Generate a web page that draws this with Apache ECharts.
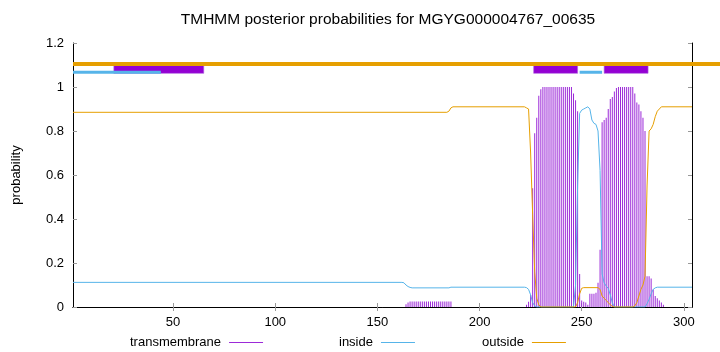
<!DOCTYPE html>
<html>
<head>
<meta charset="utf-8">
<script src="https://cdn.jsdelivr.net/npm/echarts@6/dist/echarts.min.js"></script>
<style>html,body{margin:0;padding:0;background:#fff;}#c{width:720px;height:352px;}</style>
</head>
<body>
<div id="c"></div>
<script>
// ---- data ----
const seqStart = 1;
const seqEnd = 304;
const xTicks = [50, 100, 150, 200, 250, 300];

// transmembrane posterior (impulses), non-zero positions only
const tmPos = [164,165,166,167,168,169,170,171,172,173,174,175,176,177,178,179,180,181,182,183,184,185,186,
  223,224,225,226,227,228,229,230,231,232,233,234,235,236,237,238,239,240,241,242,243,244,245,246,247,248,
  249,250,251,252,253,254,255,256,257,258,259,260,261,262,263,264,265,266,267,268,269,270,271,272,273,274,275,
  276,277,278,279,280,281,282,283,284,285,286,287,288,289,290];
const tmVal = [0.012,0.02,0.025,0.025,0.025,0.025,0.025,0.025,0.025,0.025,0.025,0.025,0.025,0.025,0.025,0.025,0.025,0.025,0.025,0.025,0.025,0.025,0.025,
  0.01,0.024,0.055,0.54,0.79,0.86,0.96,0.99,1,1,1,1,1,1,1,1,1,1,1,1,1,1,1,0.97,0.94,0.89,
  0.15,0.03,0.024,0.02,0.01,0.06,0.06,0.06,0.065,0.11,0.26,0.84,0.85,0.86,0.9,0.945,0.955,0.98,0.995,1,1,1,1,1,1,1,1,
  0.97,0.93,0.92,0.89,0.86,0.8,0.14,0.14,0.13,0.08,0.05,0.04,0.03,0.02,0.01];

// inside posterior
const inPos = [1,162,163,164,165,166,167,185,186,222,223,224,225,226,227,228,246,247,248,249,250,251,252,253,254,255,256,257,258,259,260,261,262,263,264,265,266,281,282,283,284,285,286,287,304];
const inVal = [0.112,0.112,0.11,0.1,0.093,0.089,0.087,0.087,0.09,0.09,0.088,0.08,0.055,0.02,0.005,0,0,0.1,0.55,0.88,0.895,0.9,0.905,0.91,0.9,0.85,0.835,0.83,0.8,0.62,0.15,0.11,0.095,0.085,0.055,0.02,0,0,0.015,0.035,0.06,0.08,0.087,0.09,0.09];

// outside posterior
const outPos = [1,184,185,186,187,222,223,224,225,226,227,228,229,230,247,248,249,250,251,258,259,260,261,262,263,264,265,266,275,276,277,278,279,280,281,282,283,284,285,286,287,288,289,304];
const outVal = [0.885,0.885,0.89,0.905,0.91,0.91,0.905,0.9,0.7,0.42,0.16,0.04,0.01,0,0,0.02,0.06,0.085,0.088,0.088,0.08,0.05,0.04,0.03,0.02,0.01,0.003,0,0,0.005,0.02,0.05,0.08,0.1,0.14,0.55,0.8,0.81,0.83,0.865,0.89,0.9,0.91,0.91];

// predicted topology tracks at the top
const tmBoxes = [[21, 65], [226.5, 248], [261, 282.5]];
const insideSegs = [[1, 44], [249, 260]];
const outsideSegs = [[1, 318]];

// ---- chart ----
const FONT = 'Liberation Sans, Arial, sans-serif';
const C_TM = '#9c2ad8', C_IN = '#56b4e9', C_OUT = '#e69f00', C_BOX = '#9400d3';

function trackSeries(segs, y, color, width, z) {
  return {type: 'custom', z: z, clip: false, silent: true,
    renderItem: function (params, api) {
      const a = api.coord([api.value(0), y]);
      const b = api.coord([api.value(1), y]);
      return {type: 'line', shape: {x1: a[0], y1: a[1], x2: b[0], y2: b[1]},
              style: {stroke: color, lineWidth: width, lineCap: 'butt'}};
    },
    data: segs};
}

const tickStyle = {show: true, inside: true, length: 4, lineStyle: {color: '#999'}, customValues: xTicks};
const legendText = {fontSize: 13, color: '#000', fontFamily: FONT, padding: [0, 3, 0, 0]};
const chart = echarts.init(document.getElementById('c'), null, {renderer: 'canvas'});
chart.setOption({
  animation: false,
  backgroundColor: '#fff',
  textStyle: {fontFamily: FONT},
  title: {
    text: 'TMHMM posterior probabilities for MGYG000004767_00635',
    left: 383, top: 7, textAlign: 'center',
    textStyle: {fontSize: 15.5, fontWeight: 'normal', color: '#000', fontFamily: FONT}
  },
  grid: {left: 73, right: 28, top: 43, bottom: 45, containLabel: false},
  legend: [
    {data: [{name: 'transmembrane', icon: 'rect'}], left: 125, top: 331, align: 'right', itemWidth: 34, itemHeight: 1, itemGap: 0, textStyle: legendText, selectedMode: false},
    {data: [{name: 'inside', icon: 'rect'}], left: 334, top: 331, align: 'right', itemWidth: 34, itemHeight: 1, itemGap: 0, textStyle: legendText, selectedMode: false},
    {data: [{name: 'outside', icon: 'rect'}], left: 477, top: 331, align: 'right', itemWidth: 34, itemHeight: 1, itemGap: 0, textStyle: legendText, selectedMode: false}
  ],
  xAxis: [
    {type: 'value', min: seqStart, max: seqEnd, position: 'bottom',
     axisLine: {show: true, lineStyle: {color: '#000'}},
     axisTick: tickStyle,
     axisLabel: {customValues: xTicks, color: '#000', fontSize: 13, margin: 9, fontFamily: FONT},
     splitLine: {show: false}},
    {type: 'value', min: seqStart, max: seqEnd, position: 'top',
     axisLine: {show: true, lineStyle: {color: '#000'}},
     axisTick: tickStyle, axisLabel: {show: false}, splitLine: {show: false}}
  ],
  yAxis: [
    {type: 'value', min: 0, max: 1.2, interval: 0.2, position: 'left',
     name: 'probability', nameLocation: 'middle', nameGap: 50,
     nameTextStyle: {fontSize: 13, color: '#000', fontFamily: FONT},
     axisLine: {show: true, lineStyle: {color: '#000'}},
     axisTick: {show: true, inside: true, length: 4, lineStyle: {color: '#999'}},
     axisLabel: {color: '#000', fontSize: 13, margin: 9, fontFamily: FONT},
     splitLine: {show: false}},
    {type: 'value', min: 0, max: 1.2, interval: 0.2, position: 'right',
     axisLine: {show: true, lineStyle: {color: '#000'}},
     axisTick: {show: true, inside: true, length: 4, lineStyle: {color: '#999'}},
     axisLabel: {show: false}, splitLine: {show: false}}
  ],
  series: [
    {name: 'transmembrane', type: 'bar', barWidth: 1, itemStyle: {color: C_TM},
     data: tmPos.map((p, i) => [p, tmVal[i]]), z: 2},
    {name: 'inside', type: 'line', showSymbol: false, symbol: 'none', lineStyle: {color: C_IN, width: 1}, itemStyle: {color: C_IN},
     data: inPos.map((p, i) => [p, inVal[i]]), z: 3},
    {name: 'outside', type: 'line', showSymbol: false, symbol: 'none', lineStyle: {color: C_OUT, width: 1}, itemStyle: {color: C_OUT},
     data: outPos.map((p, i) => [p, outVal[i]]), z: 3},
    {type: 'custom', z: 4, clip: false, silent: true,
     renderItem: function (params, api) {
       const a = api.coord([api.value(0), 1.1]);
       const b = api.coord([api.value(1), 1.062]);
       return {type: 'rect', shape: {x: a[0], y: a[1], width: b[0] - a[0], height: b[1] - a[1]},
               style: {fill: C_BOX, stroke: '#b060e0', lineWidth: 0.6}};
     },
     data: tmBoxes},
    trackSeries(insideSegs, 1.067, C_IN, 3, 5),
    trackSeries(outsideSegs, 1.105, C_OUT, 4, 6)
  ]
});
</script>
</body>
</html>
